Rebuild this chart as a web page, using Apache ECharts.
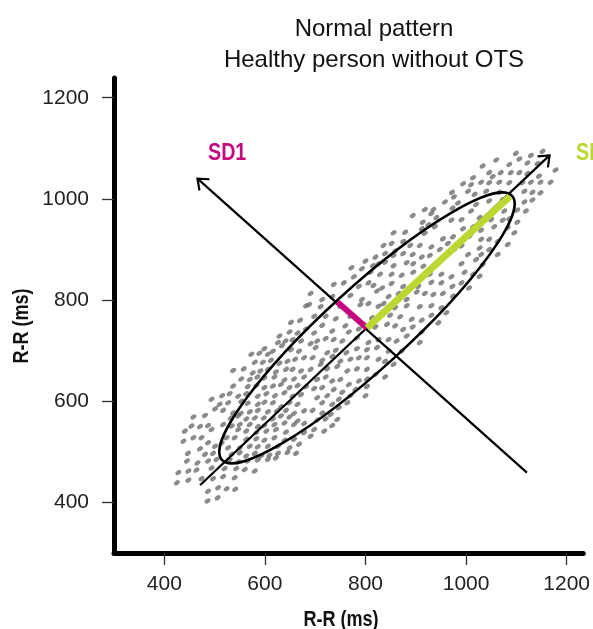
<!DOCTYPE html>
<html>
<head>
<meta charset="utf-8">
<script src="https://cdn.jsdelivr.net/npm/echarts@6/dist/echarts.min.js"></script>
<style>
  html, body { margin: 0; padding: 0; background: #fff; }
  #chart { width: 593px; height: 629px; }
</style>
</head>
<body>
<div id="chart"></div>
<script>
// Poincare plot, RR(n) vs RR(n+1) in ms
const titleLines = ["Normal pattern", "Healthy person without OTS"];
const tickValues = [400, 600, 800, 1000, 1200];

const rrPairs = [
  [682,789],[652,756],[670,760],[682,743],[629,729],[649,737],[665,735],[626,716],[641,719],[655,722],
  [672,719],[599,704],[616,699],[634,710],[652,702],[668,699],[573,693],[589,695],[606,693],[580,677],
  [596,677],[612,681],[629,675],[645,679],[660,683],[678,686],[537,661],[558,664],[576,656],[591,660],
  [606,663],[622,658],[642,663],[655,663],[672,660],[553,644],[570,643],[585,648],[599,646],[619,648],
  [639,642],[658,644],[678,648],[537,630],[566,629],[583,631],[599,627],[616,630],[632,633],[649,627],
  [665,631],[682,629],[494,604],[515,611],[530,615],[547,610],[563,615],[586,610],[603,615],[620,611],
  [639,617],[655,610],[672,613],[510,594],[527,597],[553,600],[566,596],[586,594],[599,598],[616,597],
  [632,589],[649,597],[665,594],[501,585],[517,582],[537,577],[552,576],[570,579],[586,582],[606,579],
  [624,581],[642,582],[658,576],[678,581],[458,569],[481,572],[532,567],[547,571],[563,565],[580,567],
  [598,567],[616,565],[632,571],[649,569],[665,561],[454,551],[471,550],[487,552],[517,554],[534,551],
  [550,554],[570,554],[586,550],[599,552],[619,554],[639,557],[658,554],[678,556],[441,541],[494,544],
  [547,544],[563,541],[583,538],[603,541],[622,544],[642,539],[678,538],[438,521],[458,528],[474,528],
  [487,518],[524,528],[540,528],[563,525],[583,526],[599,523],[619,528],[639,523],[658,525],[471,506],
  [501,511],[514,517],[527,508],[550,508],[570,511],[586,510],[606,511],[626,511],[649,508],[668,515],
  [447,497],[481,495],[497,497],[534,495],[550,498],[563,492],[580,497],[593,492],[609,493],[626,497],
  [645,499],[662,497],[445,482],[466,478],[487,482],[504,485],[530,484],[547,480],[566,482],[586,484],
  [606,485],[622,488],[428,459],[448,462],[464,464],[494,468],[520,467],[543,467],[560,465],[580,462],
  [425,439],[448,444],[474,447],[497,447],[517,451],[540,449],[487,422],[507,429],[524,427],[541,426],
  [486,403],[506,409],
  [972,1013],[976,1004],[958,994],[973,982],[935,979],[918,979],[931,971],[894,967],[914,954],[925,949],
  [941,963],[971,958],[856,933],[879,934],[912,941],[918,932],[938,945],[954,921],[974,925],[836,908],
  [852,912],[859,897],[875,916],[889,908],[908,908],[931,905],[948,900],[964,912],[977,900],[820,885],
  [839,892],[856,888],[875,892],[894,890],[912,885],[928,888],[800,877],[815,868],[826,872],[839,875],
  [856,868],[882,874],[895,872],[915,867],[935,868],[772,864],[793,862],[810,855],[829,851],[852,851],
  [872,849],[895,855],[928,851],[951,851],[971,846],[737,831],[757,834],[777,846],[787,827],[806,834],
  [816,829],[833,824],[852,833],[875,827],[905,827],[931,835],[951,834],[973,827],
  [691,813],[714,801],[734,807],[770,809],[793,801],[806,793],[823,818],[846,807],[866,813],[882,801],
  [902,816],[918,813],[935,811],[954,813],[974,808],[688,791],[711,787],[750,788],[790,791],[826,788],
  [836,793],[859,785],[882,789],[908,787],[931,789],[951,785],[961,775],[698,768],[721,768],[741,763],
  [770,768],[813,765],[849,770],[869,767],[892,762],[912,760],[931,770],[945,755],[698,735],[714,750],
  [734,739],[760,749],[767,737],[787,743],[820,747],[843,752],[859,749],[875,742],[894,747],[912,737],
  [691,714],[704,719],[721,724],[737,722],[754,719],[783,725],[806,716],[826,722],[846,722],[862,719],
  [882,729],[908,716],[701,706],[724,696],[741,701],[762,696],[783,704],[803,702],[823,706],[846,699],
  [872,699],[695,686],[714,681],[734,689],[750,679],[770,683],[787,686],[803,686],[826,683],[839,679],
  [856,673],[691,663],[711,673],[724,664],[744,669],[764,660],[783,664],[803,663],[820,653],[839,648],
  [704,643],[721,648],[734,640],[750,643],[767,633],[787,640],[803,644],[803,629],[698,625],[714,627],
  [737,623],[754,618],[770,611],[780,623],[800,611],[704,607],[724,611],[747,604],[695,582],[714,597],
  [734,594],[747,587],[764,597],[714,577],[731,574],[704,563],[721,565],[744,564],[698,544],[718,541],
  [734,552],[691,531],
  [1152,1094],[1099,1090],[1129,1086],[1060,1077],[1086,1068],[1106,1079],[1122,1071],[1142,1070],
  [1178,1057],[1033,1065],[1046,1052],[1053,1044],[1069,1052],[1089,1052],[1106,1052],[1122,1050],
  [1145,1045],[1014,1042],[994,1030],[1010,1028],[1030,1033],[1046,1032],[1066,1033],[1086,1032],
  [1112,1032],[1129,1033],[1148,1033],[1168,1033],[1004,1015],[1017,1009],[1040,1015],[1066,1013],
  [1116,1015],[1132,1013],[1148,1012],[984,992],[1020,989],[1046,996],[1073,999],[1116,994],[1132,998],
  [1010,976],[1060,979],[1076,976],[1102,978],[1119,976],[991,959],[1027,963],[1050,959],[1073,958],
  [1086,961],[1102,954],[994,941],[1014,945],[1030,938],[1056,945],[1083,943],[1096,933],[1007,926],
  [1030,920],[1046,920],[1063,916],[1083,910],[991,907],[1027,903],[1046,900],[1063,890],[1004,890],
  [1030,890],[991,872],[1020,880],[1033,870],[997,855],[1014,851],[1027,847],[991,834],[1006,824]
];

// ellipse fitted to the cloud: centre, SD2 (half major), SD1 (half minor), tilt in degrees
const ellipseCenter = [803, 745];
const sd2Half = 390;
const sd1Half = 80;
const ellipseTilt = 42.3;

// SD segments drawn from the centre
const sd1Segment = [[744, 796], [803, 745]];
const sd2Segment = [[803, 745], [1087, 1005]];

// long axes with arrow heads: [x0, y0, x1 (tip), y1 (tip)]
const arrowAxes = [
  [471, 434, 1166, 1086],
  [1121, 459, 466, 1040]
];

const magenta = "#c5087e";
const lime = "#bdd631";
const dotGrey = "#6d6e71";
const font = "Liberation Sans";

const chart = echarts.init(document.getElementById("chart"));

function axisCommon() {
  return {
    type: "value",
    splitLine: { show: false },
    axisLine: { onZero: false, lineStyle: { color: "#000", width: 5 } },
    axisTick: { customValues: tickValues, length: 12, lineStyle: { color: "#333", width: 1.3 } },
    axisLabel: {
      customValues: tickValues,
      color: "#222",
      fontSize: 21,
      fontFamily: font,
      formatter: (v) => String(v)
    }
  };
}

const xAxis = axisCommon();
xAxis.min = 300;
xAxis.max = 1233;
xAxis.axisLabel.margin = 21;

const yAxis = axisCommon();
yAxis.min = 300;
yAxis.max = 1239;
yAxis.axisLabel.margin = 25;

// bold condensed look: Liberation Sans Bold squeezed horizontally
function condensedText(text, x, y, size, color, align, rotation) {
  return {
    type: "text", x: x, y: y, z: 10,
    rotation: rotation || 0,
    scaleX: 0.82,
    style: {
      text: text, fill: color,
      font: "bold " + size + "px '" + font + "'",
      align: align, verticalAlign: "middle"
    }
  };
}

chart.setOption({
  animation: false,
  title: {
    text: titleLines.join("\n"),
    left: 369,
    top: 9,
    textAlign: "center",
    textStyle: { fontFamily: font, fontWeight: "normal", fontSize: 24, lineHeight: 31, color: "#111" }
  },
  grid: { left: 114, right: 6, top: 78, bottom: 76 },
  xAxis: xAxis,
  yAxis: yAxis,
  series: [
    {
      type: "scatter",
      data: rrPairs,
      symbol: "circle",
      symbolSize: [6.5, 4.4],
      symbolRotate: 35,
      itemStyle: { color: dotGrey },
      z: 1
    },
    {
      type: "custom",
      data: [[ellipseCenter[0], ellipseCenter[1], sd2Half, sd1Half, ellipseTilt]],
      encode: { x: 0, y: 1 },
      z: 3,
      renderItem(params, api) {
        const c = api.coord([api.value(0), api.value(1)]);
        const rx = api.size([api.value(2), 0])[0];
        const ry = api.size([0, api.value(3)])[1];
        return {
          type: "ellipse",
          shape: { cx: c[0], cy: c[1], rx: rx, ry: ry },
          originX: c[0],
          originY: c[1],
          rotation: api.value(4) * Math.PI / 180,
          style: { fill: "none", stroke: "#000", lineWidth: 2.5 }
        };
      }
    },
    {
      type: "custom",
      data: arrowAxes,
      encode: { x: [0, 2], y: [1, 3] },
      z: 3,
      renderItem(params, api) {
        const p0 = api.coord([api.value(0), api.value(1)]);
        const p1 = api.coord([api.value(2), api.value(3)]);
        const ang = Math.atan2(p1[1] - p0[1], p1[0] - p0[0]);
        const arm = 12, spread = 0.68;
        const a1 = [p1[0] - arm * Math.cos(ang - spread), p1[1] - arm * Math.sin(ang - spread)];
        const a2 = [p1[0] - arm * Math.cos(ang + spread), p1[1] - arm * Math.sin(ang + spread)];
        const stroke = { stroke: "#000", lineWidth: 2.2, fill: "none" };
        return {
          type: "group",
          children: [
            { type: "line", shape: { x1: p0[0], y1: p0[1], x2: p1[0], y2: p1[1] }, style: stroke },
            { type: "polyline", shape: { points: [a1, p1, a2] }, style: stroke }
          ]
        };
      }
    },
    {
      type: "line",
      data: sd1Segment,
      showSymbol: false,
      lineStyle: { color: magenta, width: 6, cap: "butt" },
      z: 4
    },
    {
      type: "line",
      data: sd2Segment,
      showSymbol: false,
      lineStyle: { color: lime, width: 7, cap: "butt" },
      z: 4
    }
  ],
  graphic: [
    condensedText("SD1", 208, 153, 24, magenta, "left"),
    condensedText("SD2", 576, 153, 24, lime, "left"),
    condensedText("R-R (ms)", 341, 620, 22, "#111", "center"),
    condensedText("R-R (ms)", 22, 326, 22, "#111", "center", Math.PI / 2)
  ]
});
</script>
</body>
</html>
